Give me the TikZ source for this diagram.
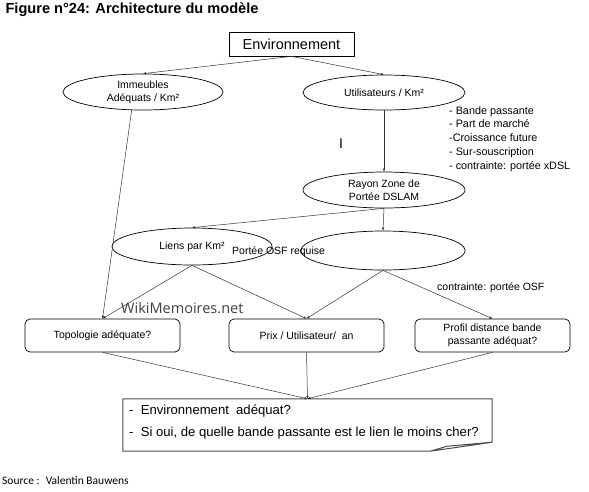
\documentclass[tikz,border=0pt]{standalone}
\usepackage{fontspec}
\setmainfont{Liberation Sans}
\newfontfamily\srcfont{Carlito}
\newfontfamily\wmfont{Open Sans}
\usetikzlibrary{shapes.geometric,arrows.meta}

\begin{document}
\begin{tikzpicture}[x=1pt,y=-1pt,
    oval/.style={ellipse, draw, line width=0.7pt, inner sep=0pt, align=center,
      font=\fontsize{10.5}{13}\selectfont},
    card/.style={rectangle, rounded corners=5pt, draw, line width=0.7pt, inner sep=0pt,
      align=center, minimum width=155pt, minimum height=33pt, font=\fontsize{10.5}{13}\selectfont},
    link/.style={line width=0.5pt, draw=black!80, -{Latex[length=3pt,width=2.5pt]}},
    plain/.style={line width=0.5pt, draw=black!80}
  ]
  \useasboundingbox (0,0) rectangle (589,491);
  \node[anchor=west, font=\bfseries\fontsize{14.6}{16}\selectfont]
    (title) at (2,10) {Figure n°24: Architecture du modèle};
  \node[draw, line width=0.7pt, minimum width=125pt, minimum height=24pt, inner sep=0pt,
    font=\fontsize{14.5}{16}\selectfont]
    (env) at (291.5,44) {Environnement};
  \node[oval, minimum width=160pt, minimum height=36pt] (imm) at (143,92) {Immeubles\\Adéquats / Km²};
  \node[oval, minimum width=162pt, minimum height=35pt] (usr) at (384,92.5) {Utilisateurs / Km²};
  \node[oval, minimum width=162pt, minimum height=36pt] (ray) at (384,190) {Rayon Zone de\\Portée DSLAM};
  \node[oval, minimum width=160pt, minimum height=37pt] (lien) at (192,246.5) {Liens par Km²};
  \node[oval, minimum width=164pt, minimum height=39pt] (osf) at (383,250.5) {};
  \node[anchor=west, inner sep=0pt, font=\fontsize{10.5}{13}\selectfont]
    (osftxt) at (232,252) {Portée OSF requise};
  \node[anchor=north west, inner sep=0pt, align=left, font=\fontsize{10.8}{13.8}\selectfont]
    (crit) at (449,106) {- Bande passante\\- Part de marché\\-Croissance future\\- Sur-souscription\\- contrainte: portée xDSL};
  \node[inner sep=0pt, font=\fontsize{14}{16}\selectfont] (bar) at (341,144) {I};
  \node[card] (topo) at (102.5,335.5) {Topologie adéquate?};
  \node[card] (prix) at (306.5,335.5) {Prix / Utilisateur/ \ an};
  \node[card] (prof) at (492.5,335.5) {Profil distance bande\\passante adéquat?};
  \node[anchor=west, inner sep=0pt, font=\fontsize{10.5}{13}\selectfont]
    (cstr) at (437,288) {contrainte: portée OSF};
  \node[anchor=west, inner sep=0pt, text=black!75, font=\wmfont\fontsize{14.5}{16}\selectfont]
    (wm) at (121,308) {WikiMemoires.net};
  \node[minimum width=369pt, minimum height=52pt, inner sep=0pt] (note) at (307.5,425) {};
  \node[anchor=west, inner sep=0pt, align=left, font=\fontsize{13.1}{22}\selectfont]
    (notetxt) at (129,422) {- \ Environnement \ adéquat?\\- \ Si oui, de quelle bande passante est le lien le moins cher?};
  \node[anchor=west, inner sep=0pt, font=\srcfont\fontsize{11.5}{13}\selectfont]
    (src) at (2,481) {Source : \ Valentin Bauwens};

  % folded note
  \draw[line width=1pt, draw=black!70]
    (note.north west) -- (note.north east) -- ([yshift=9pt]note.south east)
    -- ([xshift=-62pt]note.south east) -- (note.south west) -- cycle
    ([xshift=-62pt]note.south east) -- ([xshift=-45pt,yshift=5pt]note.south east)
    -- ([yshift=9pt]note.south east);

  \draw[link] (env.south) -- (imm.north);
  \draw[link] (env.south) -- (usr.north);
  \draw[link] (usr.south) -- (ray.north);
  \draw[link] (ray.south) -- (lien.north);
  \draw[link] (ray.south) -- (osf.north);
  \draw[link] (imm.238) -- (topo.north);
  \draw[link] (lien.south) -- (topo.north);
  \draw[link] (lien.south) -- (prix.north);
  \draw[link] (osf.south) -- (prix.north);
  \draw[link] (osf.south) -- (prof.north);
  \draw[link] (topo.south) -- (note.north);
  \draw[link] (prix.south) -- (note.north);
  \draw[link] (prof.south) -- (note.north);
\end{tikzpicture}
\end{document}
